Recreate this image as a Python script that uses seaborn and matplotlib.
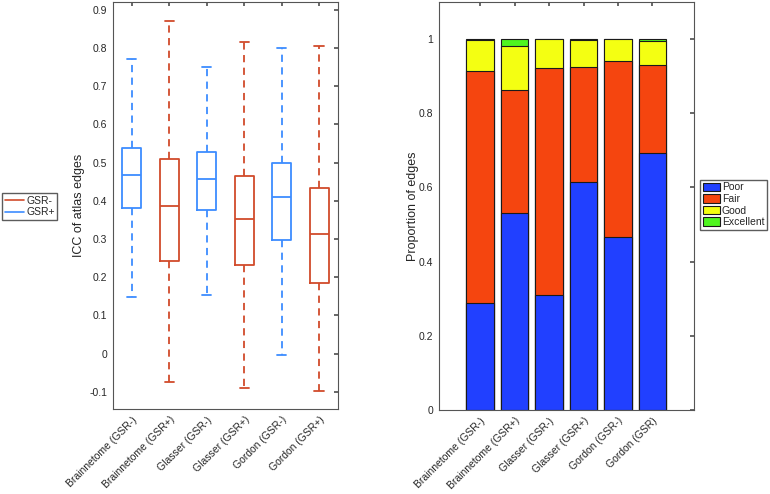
import numpy as np
import pandas as pd
import seaborn as sns
import matplotlib.pyplot as plt
from matplotlib.lines import Line2D
from matplotlib.patches import Patch

# =============================================================================
# 1. DATA
# =============================================================================
atlas_labels = ['Brainnetome (GSR-)', 'Brainnetome (GSR+)', 'Glasser (GSR-)',
                'Glasser (GSR+)', 'Gordon (GSR-)', 'Gordon (GSR+)']
bar_labels = ['Brainnetome (GSR-)', 'Brainnetome (GSR+)', 'Glasser (GSR-)',
              'Glasser (GSR+)', 'Gordon (GSR-)', 'Gordon (GSR)']

# box summary stats of ICC per atlas
whisker_lo = [0.147, -0.075, 0.153, -0.089, -0.004, -0.097]
q1 = [0.381, 0.243, 0.376, 0.233, 0.297, 0.184]
median = [0.468, 0.387, 0.458, 0.352, 0.411, 0.312]
q3 = [0.537, 0.510, 0.527, 0.466, 0.499, 0.433]
whisker_hi = [0.770, 0.871, 0.750, 0.814, 0.799, 0.804]
box_group = ['GSR+', 'GSR-', 'GSR+', 'GSR-', 'GSR+', 'GSR-']

# proportion of edges per reliability class
poor = [0.288, 0.530, 0.309, 0.614, 0.467, 0.694]
fair = [0.627, 0.332, 0.612, 0.311, 0.474, 0.235]
good = [0.083, 0.118, 0.078, 0.072, 0.059, 0.067]
excellent = [0.002, 0.020, 0.001, 0.003, 0.000, 0.004]

icc_ticks = [-0.1, 0, 0.1, 0.2, 0.3, 0.4, 0.5, 0.6, 0.7, 0.8, 0.9]
prop_ticks = [0, 0.2, 0.4, 0.6, 0.8, 1]

# =============================================================================
# 2. STYLE
# =============================================================================
sns.set_theme(style="white")
plt.rcParams['font.family'] = ['Liberation Sans', 'DejaVu Sans']
plt.rcParams['xtick.direction'] = 'in'
plt.rcParams['ytick.direction'] = 'in'
plt.rcParams['axes.edgecolor'] = '#555555'
plt.rcParams['axes.linewidth'] = 0.8

group_colors = {'GSR-': '#D14B2B', 'GSR+': '#3D8CFF'}
class_colors = {'Poor': '#2140FF', 'Fair': '#F5450F',
                'Good': '#F4FF12', 'Excellent': '#4FF51F'}
txt = '#262626'

fig = plt.figure(figsize=(7.7, 4.94), dpi=100)
ax1 = fig.add_axes([0.1468, 0.172, 0.292, 0.824])
ax2 = fig.add_axes([0.570, 0.170, 0.331, 0.826])

# =============================================================================
# 3. LEFT: BOXPLOT
# =============================================================================
# five-number summary per box -> whiskers at min/max reproduce the stats
rows = []
for i, lab in enumerate(atlas_labels):
    for v in (whisker_lo[i], q1[i], median[i], q3[i], whisker_hi[i]):
        rows.append({'atlas': lab, 'icc': v})
df_box = pd.DataFrame(rows)
box_palette = {lab: group_colors[g] for lab, g in zip(atlas_labels, box_group)}

sns.boxplot(data=df_box, x='atlas', y='icc', hue='atlas', palette=box_palette,
            order=atlas_labels, fill=False, whis=(0, 100), width=0.5,
            linewidth=1.3, legend=False, ax=ax1,
            whiskerprops={'linestyle': (0, (4, 3))})

ax1.set_xlim(-0.5, 5.5)
ax1.set_ylim(-0.145, 0.92)
ax1.set_yticks(icc_ticks)
ax1.set_yticklabels([f"{t:g}" for t in icc_ticks], fontsize=7.5, color=txt)
ax1.set_xticks(range(len(atlas_labels)))
ax1.set_xticklabels(atlas_labels, rotation=45, ha='right',
                    rotation_mode='anchor', fontsize=7.5, color=txt)
ax1.set_xlabel('')
ax1.set_ylabel('ICC of atlas edges', fontsize=9, color=txt, labelpad=3)
ax1.tick_params(top=True, right=True, length=3, color='#555555', pad=4)

h1 = [Line2D([], [], color=group_colors['GSR-'], lw=1.2),
      Line2D([], [], color=group_colors['GSR+'], lw=1.2)]
fig.legend(h1, ['GSR-', 'GSR+'], loc='upper left',
           bbox_to_anchor=(0.003, 0.609), fontsize=7.5, frameon=True,
           fancybox=False, edgecolor='#333333', handlelength=1.8,
           handletextpad=0.25, borderpad=0.25, labelspacing=0.15,
           borderaxespad=0)

# =============================================================================
# 4. RIGHT: STACKED BARS
# =============================================================================
cum_poor = np.array(poor)
cum_fair = cum_poor + np.array(fair)
cum_good = cum_fair + np.array(good)
cum_exc = cum_good + np.array(excellent)

for cum, name in [(cum_exc, 'Excellent'), (cum_good, 'Good'),
                  (cum_fair, 'Fair'), (cum_poor, 'Poor')]:
    sns.barplot(x=bar_labels, y=cum, color=class_colors[name], width=0.8,
                edgecolor='#1a1a1a', linewidth=0.8, saturation=1, ax=ax2)

ax2.set_xlim(-1.2, 6.2)
ax2.set_ylim(0, 1.1)
ax2.set_yticks(prop_ticks)
ax2.set_yticklabels([f"{t:g}" for t in prop_ticks], fontsize=7.5, color=txt)
ax2.set_xticks(range(len(bar_labels)))
ax2.set_xticklabels(bar_labels, rotation=45, ha='right',
                    rotation_mode='anchor', fontsize=7.5, color=txt)
ax2.set_ylabel('Proportion of edges', fontsize=9, color=txt, labelpad=0)
ax2.tick_params(top=True, right=True, length=3, color='#555555', pad=4)

h2 = [Patch(facecolor=class_colors[n], edgecolor='#1a1a1a', lw=0.8)
      for n in ['Poor', 'Fair', 'Good', 'Excellent']]
fig.legend(h2, ['Poor', 'Fair', 'Good', 'Excellent'], loc='upper left',
           bbox_to_anchor=(0.909, 0.636), fontsize=7.5, frameon=True,
           fancybox=False, edgecolor='#333333', handlelength=1.7,
           handleheight=0.9, handletextpad=0.15, borderpad=0.25,
           labelspacing=0.15, borderaxespad=0)

fig.savefig('out.png', dpi=100)
